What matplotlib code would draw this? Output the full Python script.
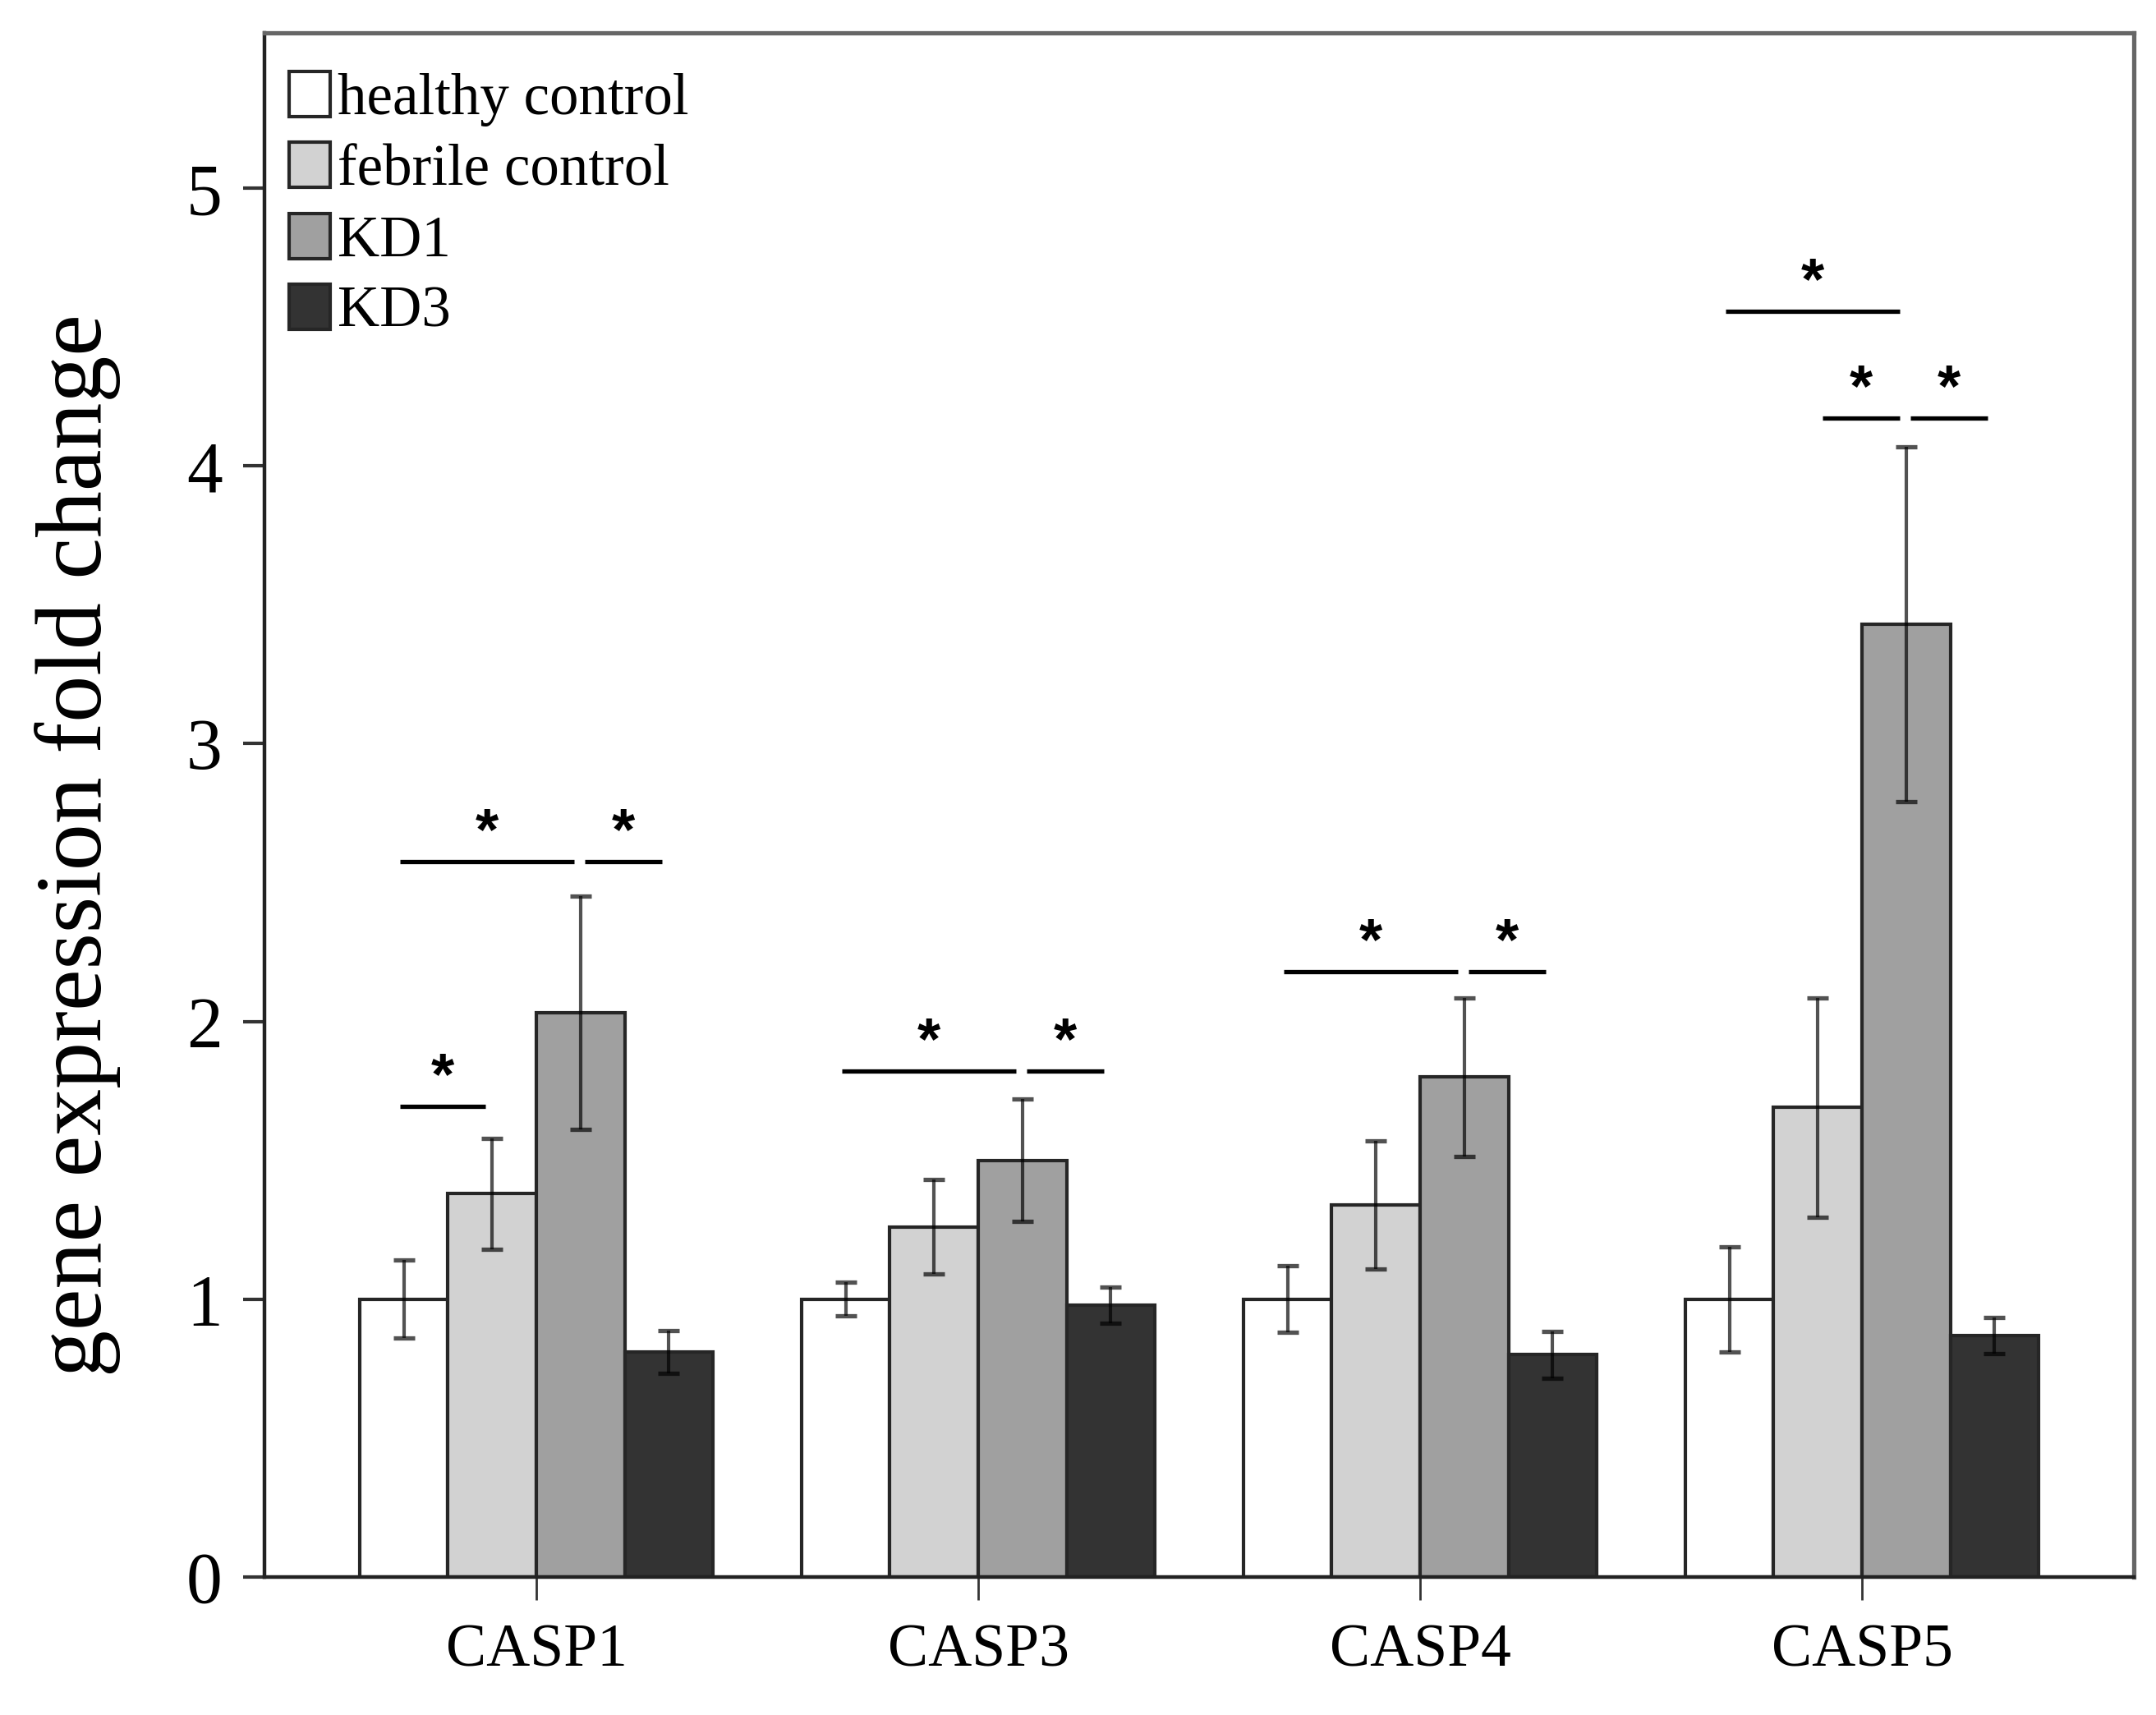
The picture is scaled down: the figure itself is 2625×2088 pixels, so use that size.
import numpy as np
import matplotlib
matplotlib.use("Agg")
import matplotlib.pyplot as plt
from matplotlib.patches import Patch

plt.rcParams['font.family'] = ['Liberation Serif', 'DejaVu Serif']

# ---- data ----
genes = ['CASP1', 'CASP3', 'CASP4', 'CASP5']
series_names = ['healthy control', 'febrile control', 'KD1', 'KD3']
healthy = [1.0, 1.0, 1.0, 1.0]
healthy_err = [0.14, 0.06, 0.12, 0.19]
febrile = [1.38, 1.26, 1.34, 1.69]
febrile_err = [0.20, 0.17, 0.23, 0.395]
kd1 = [2.03, 1.50, 1.80, 3.43]
kd1_err = [0.42, 0.22, 0.285, 0.64]
kd3 = [0.81, 0.98, 0.80, 0.87]
kd3_err = [0.077, 0.065, 0.085, 0.065]

# significance brackets: gene index, from series, to series, height
sig_gene = [0, 0, 0, 1, 1, 2, 2, 3, 3, 3]
sig_from = [0, 0, 2, 0, 2, 0, 2, 0, 1, 2]
sig_to = [1, 2, 3, 2, 3, 2, 3, 2, 2, 3]
sig_y = [1.694, 2.575, 2.575, 1.82, 1.82, 2.178, 2.178, 4.557, 4.172, 4.172]

yticks = [0, 1, 2, 3, 4, 5]

# ---- style ----
colors = ['#ffffff', '#d2d2d2', '#a0a0a0', '#333333']
edge = '#262626'
width = 0.2

fig = plt.figure(figsize=(26.25, 20.88), dpi=100)
ax = fig.add_axes([0.1227, 0.0805, 0.867, 0.9003])

values = [healthy, febrile, kd1, kd3]
errors = [healthy_err, febrile_err, kd1_err, kd3_err]
x = np.arange(len(genes))

for k, (vals, errs) in enumerate(zip(values, errors)):
    pos = x + (k - 1.5) * width
    ax.bar(pos, vals, width=width, color=colors[k], edgecolor=edge,
           linewidth=3.0, zorder=2, label=series_names[k])
    ax.errorbar(pos, vals, yerr=errs, fmt='none', ecolor=(0, 0, 0, 0.68),
                elinewidth=3.0, capsize=9.5, capthick=3.8, zorder=3)

# significance lines and stars
for g, a, b, yv in zip(sig_gene, sig_from, sig_to, sig_y):
    xa = g + (a - 1.5) * width
    xb = g + (b - 1.5) * width
    xa = xa + (0.01 if a > 0 else -0.008)
    xb = xb - 0.015
    ax.plot([xa, xb], [yv, yv], color='black', linewidth=3.8,
            solid_capstyle='butt', zorder=4)
    ax.text((xa + xb) / 2, yv + 0.045, '*', ha='center', va='baseline',
            fontsize=52, fontweight='bold', family='Liberation Sans', zorder=5)

ax.set_xlim(-0.615, 3.615)
ax.set_ylim(0, 5.559)
ax.set_yticks(yticks)
ax.set_yticklabels([str(t) for t in yticks])
ax.set_xticks(x)
ax.set_xticklabels(genes)

ax.tick_params(axis='y', direction='out', length=19, width=3, color='#333333',
               labelsize=63, pad=18)
ax.tick_params(axis='x', direction='out', length=20, width=2, color='#333333',
               labelsize=53, pad=21)

for side in ['left', 'bottom']:
    ax.spines[side].set_color('#222222')
    ax.spines[side].set_linewidth(3.2)
for side in ['top', 'right']:
    ax.spines[side].set_color('#666666')
    ax.spines[side].set_linewidth(3.8)

ax.set_ylabel('gene expression fold change', fontsize=82)
ax.yaxis.set_label_coords(-0.077, 0.474)

handles = [Patch(facecolor=colors[k], edgecolor=edge, linewidth=3.0)
           for k in range(4)]
ax.legend(handles, series_names, loc='upper left',
          bbox_to_anchor=(0.0132, 0.975), frameon=False, fontsize=51,
          borderpad=0, borderaxespad=0, handlelength=0.7, handleheight=0.82,
          handletextpad=0.13, labelspacing=0.27)

fig.savefig('out.png', dpi=100)
